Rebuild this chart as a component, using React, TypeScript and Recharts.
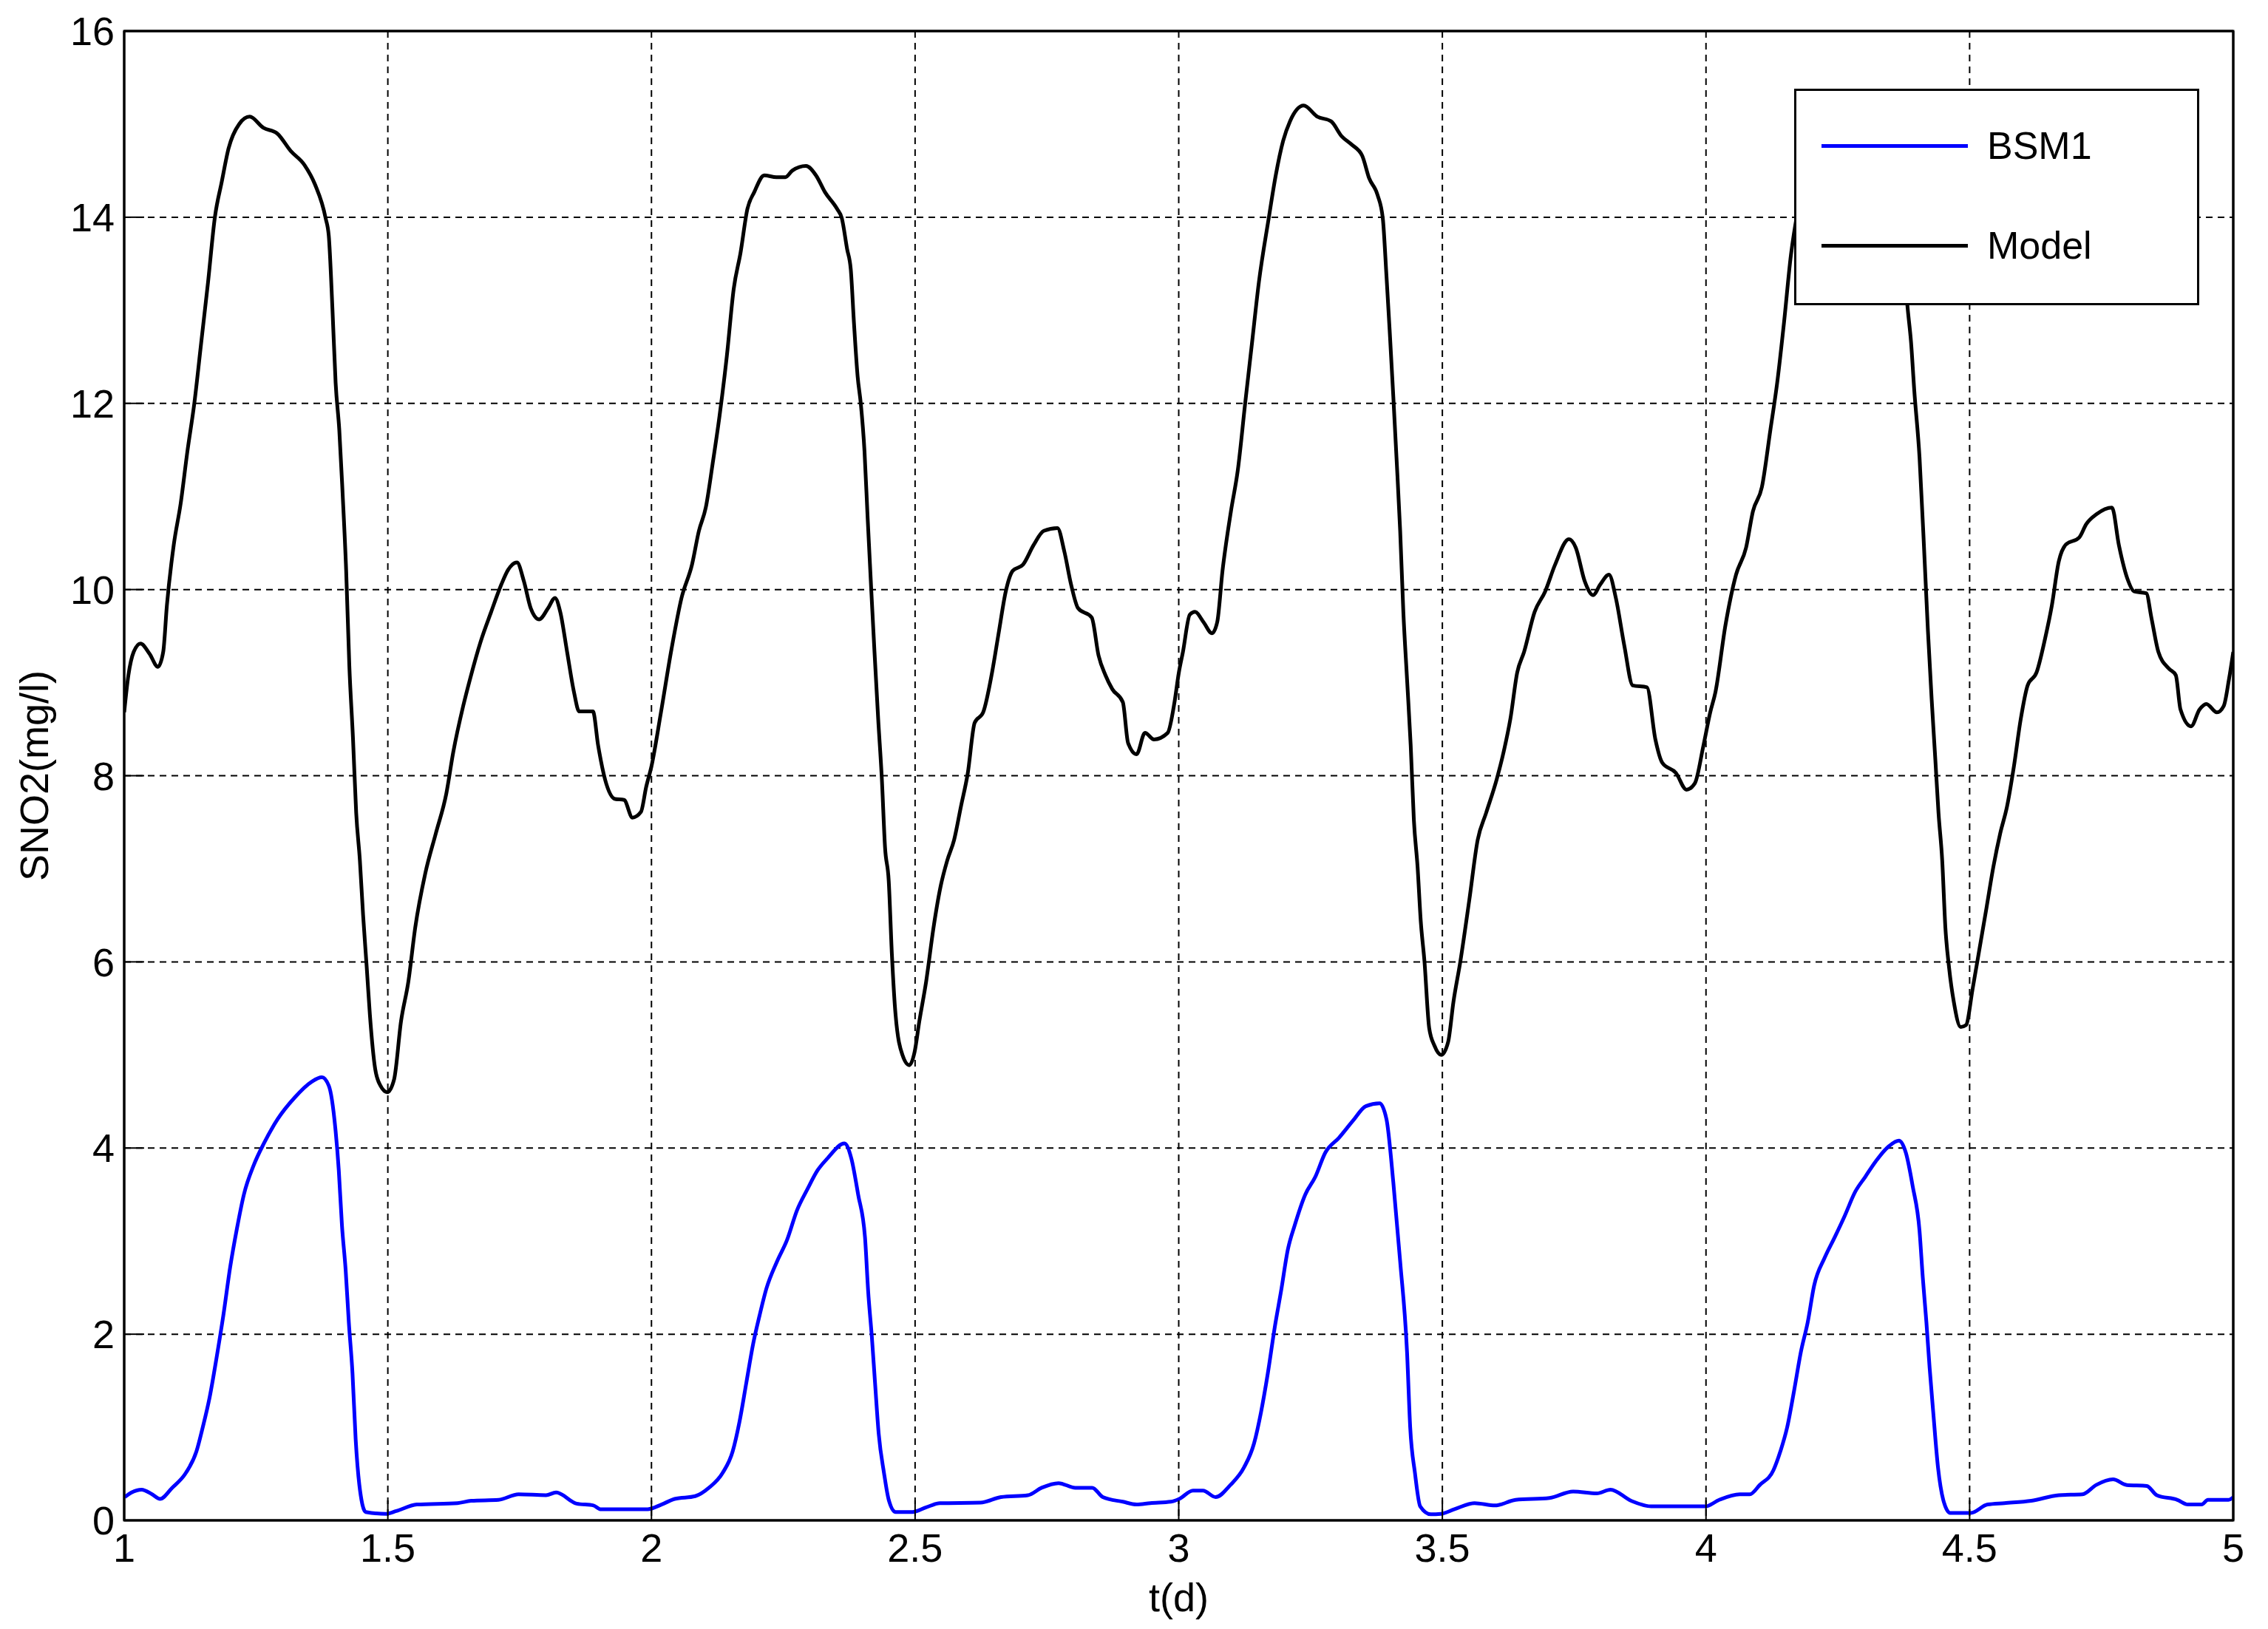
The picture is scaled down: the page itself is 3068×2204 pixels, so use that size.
import React from 'react';
import {
  LineChart,
  Line,
  XAxis,
  YAxis,
  CartesianGrid,
  Legend,
  ReferenceArea,
} from 'recharts';

// Model curve (black)
const modelTime = [
  1.0, 1.008, 1.018, 1.031, 1.048, 1.064, 1.074, 1.081, 1.094, 1.107, 1.12, 1.133, 1.146, 1.159, 1.172,
  1.185, 1.198, 1.218, 1.238, 1.264, 1.29, 1.316, 1.342, 1.362, 1.382, 1.388, 1.395, 1.401, 1.408,
  1.414, 1.421, 1.427, 1.434, 1.44, 1.447, 1.453, 1.46, 1.466, 1.476, 1.486, 1.499, 1.512, 1.525,
  1.539, 1.552, 1.571, 1.591, 1.611, 1.624, 1.643, 1.656, 1.676, 1.696, 1.715, 1.728, 1.745, 1.758,
  1.771, 1.787, 1.804, 1.817, 1.827, 1.84, 1.853, 1.863, 1.889, 1.899, 1.912, 1.931, 1.948, 1.964,
  1.98, 1.99, 2.0,
  2.018, 2.038, 2.057, 2.077, 2.09, 2.103, 2.116, 2.129, 2.143, 2.156, 2.169, 2.182, 2.195, 2.214,
  2.237, 2.254, 2.267, 2.293, 2.312, 2.329, 2.352, 2.361, 2.371, 2.378, 2.384, 2.391, 2.397, 2.404,
  2.41, 2.417, 2.423, 2.43, 2.437, 2.443, 2.45, 2.456, 2.463, 2.476, 2.489, 2.499, 2.508, 2.521,
  2.535, 2.548, 2.561, 2.574, 2.587, 2.6, 2.613, 2.629, 2.646, 2.659, 2.672, 2.685, 2.705, 2.725,
  2.744, 2.77, 2.783, 2.796, 2.809, 2.835, 2.848, 2.861, 2.874, 2.894, 2.904, 2.92, 2.936, 2.953,
  2.979, 2.992, 3.0,
  3.008, 3.021, 3.031, 3.047, 3.063, 3.073, 3.083, 3.099, 3.112, 3.126, 3.139, 3.152, 3.171, 3.184,
  3.198, 3.211, 3.237, 3.263, 3.289, 3.309, 3.328, 3.348, 3.361, 3.377, 3.387, 3.394, 3.4, 3.407,
  3.413, 3.42, 3.426, 3.433, 3.44, 3.446, 3.453, 3.459, 3.466, 3.475, 3.485, 3.498, 3.511, 3.521,
  3.534, 3.551, 3.567, 3.583, 3.603, 3.616, 3.629, 3.642, 3.655, 3.675, 3.695, 3.714, 3.74, 3.753,
  3.77, 3.786, 3.799, 3.816, 3.829, 3.845, 3.861, 3.888, 3.904, 3.917, 3.943, 3.963, 3.979, 3.995,
  4.008, 4.018, 4.037, 4.057, 4.076, 4.089, 4.106, 4.122, 4.135, 4.148, 4.161, 4.175, 4.19, 4.21,
  4.235, 4.26, 4.29, 4.32, 4.35, 4.37, 4.382, 4.389, 4.395, 4.405, 4.415, 4.421, 4.428, 4.435,
  4.441, 4.448, 4.454, 4.461, 4.47, 4.483, 4.493, 4.506, 4.519, 4.532, 4.545, 4.558, 4.571, 4.584,
  4.597, 4.61, 4.627, 4.643, 4.656, 4.669, 4.682, 4.708, 4.721, 4.741, 4.77, 4.783, 4.799, 4.812,
  4.835, 4.845, 4.858, 4.878, 4.891, 4.9, 4.92, 4.936, 4.949, 4.969, 4.982, 4.992, 5.0,
];
const modelValue = [
  8.68, 9.08, 9.33, 9.42, 9.31, 9.17, 9.33, 9.83, 10.48, 10.92, 11.49, 12.0, 12.65, 13.3, 14.0,
  14.38, 14.74, 15.0, 15.08, 14.96, 14.9, 14.71, 14.56, 14.35, 13.99, 13.8, 13.01, 12.22, 11.71,
  11.06, 10.2, 9.18, 8.39, 7.6, 7.09, 6.51, 5.94, 5.43, 4.85, 4.67, 4.6, 4.74, 5.36,
  5.79, 6.37, 6.95, 7.38, 7.81, 8.25, 8.75, 9.04, 9.44, 9.76, 10.05, 10.21, 10.29, 10.09,
  9.8, 9.68, 9.8, 9.91, 9.76, 9.33, 8.9, 8.69, 8.69, 8.32, 7.96, 7.75, 7.74, 7.55,
  7.61, 7.88, 8.1,
  8.68, 9.36, 9.91, 10.27, 10.63, 10.88, 11.35, 11.86, 12.51, 13.23, 13.62, 14.09, 14.27, 14.45,
  14.43, 14.43, 14.5, 14.55, 14.45, 14.27, 14.09, 13.99, 13.66, 13.44, 12.87, 12.29, 12.0, 11.49,
  10.77, 9.98, 9.33, 8.61, 7.96, 7.23, 6.87, 6.08, 5.43, 5.0, 4.89, 5.03, 5.36, 5.79,
  6.37, 6.8, 7.09, 7.31, 7.67, 8.03, 8.57, 8.68, 9.11, 9.55, 9.98, 10.2, 10.27, 10.48,
  10.63, 10.66, 10.41, 10.05, 9.8, 9.7, 9.29, 9.08, 8.93, 8.79, 8.35, 8.23, 8.46, 8.39,
  8.46, 8.79, 9.1,
  9.33, 9.73, 9.76, 9.65, 9.53, 9.65, 10.2, 10.84, 11.28, 12.0, 12.65, 13.3, 14.0, 14.45,
  14.82, 15.03, 15.2, 15.08, 15.03, 14.87, 14.78, 14.66, 14.42, 14.24, 13.99, 13.37, 12.79, 12.07,
  11.42, 10.63, 9.76, 9.04, 8.32, 7.52, 7.02, 6.44, 6.01, 5.29, 5.1, 5.0, 5.14, 5.57,
  6.0, 6.66, 7.31, 7.6, 7.96, 8.25, 8.61, 9.11, 9.33, 9.76, 9.98, 10.27, 10.54, 10.45,
  10.09, 9.94, 10.05, 10.16, 9.91, 9.4, 8.97, 8.95, 8.39, 8.14, 8.03, 7.85, 7.92, 8.32,
  8.68, 8.9, 9.62, 10.16, 10.45, 10.84, 11.1, 11.71, 12.22, 12.87, 13.59, 14.1, 14.5, 14.85,
  15.0, 14.95, 14.85, 14.65, 14.4, 14.0, 13.05, 12.65, 12.14, 11.42, 10.27, 9.55, 8.82, 8.17,
  7.6, 7.09, 6.37, 5.94, 5.57, 5.3, 5.32, 5.72, 6.15, 6.58, 7.02, 7.38, 7.67, 8.1,
  8.61, 8.97, 9.11, 9.47, 9.83, 10.3, 10.48, 10.56, 10.7, 10.81, 10.88, 10.48, 10.12, 9.98,
  9.96, 9.69, 9.33, 9.15, 9.08, 8.71, 8.53, 8.71, 8.77, 8.68, 8.75, 9.04, 9.33,
];

// BSM1 curve (blue)
const bsmTime = [
  1.001, 1.014, 1.033, 1.053, 1.068, 1.091, 1.117, 1.137, 1.149, 1.162, 1.175, 1.188, 1.201, 1.214,
  1.227, 1.246, 1.265, 1.291, 1.323, 1.355, 1.375, 1.388, 1.401, 1.407, 1.413, 1.42, 1.426, 1.433,
  1.439, 1.446, 1.458, 1.497, 1.516, 1.555, 1.632, 1.658, 1.71, 1.748, 1.8, 1.819, 1.858, 1.89,
  1.903, 1.993, 2.019, 2.044, 2.083, 2.109, 2.135, 2.154, 2.167, 2.18, 2.193, 2.205, 2.218, 2.238,
  2.257, 2.276, 2.296, 2.315, 2.334, 2.366, 2.379, 2.392, 2.405, 2.411, 2.418, 2.424, 2.431, 2.441,
  2.45, 2.463, 2.495, 2.521, 2.547, 2.624, 2.663, 2.714, 2.74, 2.772, 2.804, 2.836, 2.856, 2.894,
  2.92, 2.946, 2.985,
  3.001, 3.027, 3.046, 3.07, 3.098, 3.124, 3.143, 3.156, 3.169, 3.182, 3.194, 3.207, 3.22, 3.24,
  3.259, 3.278, 3.304, 3.33, 3.355, 3.381, 3.394, 3.407, 3.42, 3.433, 3.439, 3.448, 3.458, 3.478,
  3.497, 3.523, 3.561, 3.6, 3.639, 3.703, 3.748, 3.793, 3.819, 3.858, 3.896, 3.999, 4.025, 4.064,
  4.083, 4.102, 4.128, 4.141, 4.154, 4.167, 4.18, 4.193, 4.205, 4.225, 4.244, 4.263, 4.283, 4.302,
  4.321, 4.347, 4.366, 4.379, 4.392, 4.405, 4.411, 4.418, 4.424, 4.431, 4.44, 4.45, 4.463, 4.502,
  4.534, 4.566, 4.617, 4.669, 4.714, 4.74, 4.772, 4.798, 4.836, 4.855, 4.894, 4.914, 4.94, 4.952,
  4.991, 5.0,
];
const bsmValue = [
  0.25, 0.3, 0.33, 0.28, 0.23, 0.35, 0.51, 0.74, 1.0, 1.32, 1.74, 2.2, 2.72, 3.14,
  3.5, 3.82, 4.05, 4.31, 4.54, 4.71, 4.76, 4.67, 4.18, 3.76, 3.17, 2.69, 2.13, 1.58,
  0.87, 0.38, 0.09, 0.07, 0.1, 0.17, 0.185, 0.21, 0.22, 0.28, 0.27, 0.3, 0.18, 0.16,
  0.12, 0.12, 0.17, 0.23, 0.26, 0.35, 0.51, 0.74, 1.06, 1.48, 1.9, 2.2, 2.49, 2.78,
  3.01, 3.33, 3.56, 3.76, 3.89, 4.05, 3.89, 3.5, 3.04, 2.46, 1.97, 1.48, 0.93, 0.51,
  0.22, 0.09, 0.09, 0.14, 0.185, 0.19, 0.25, 0.27, 0.35, 0.4, 0.35, 0.35, 0.25, 0.2,
  0.17, 0.185, 0.2,
  0.23, 0.32, 0.32, 0.25, 0.38, 0.57, 0.83, 1.16, 1.58, 2.07, 2.46, 2.91, 3.17, 3.5,
  3.69, 3.95, 4.11, 4.29, 4.45, 4.48, 4.31, 3.63, 2.78, 1.81, 1.0, 0.51, 0.15, 0.065,
  0.07, 0.12, 0.185, 0.16, 0.22, 0.24, 0.31, 0.29, 0.33, 0.21, 0.15, 0.15, 0.22, 0.28,
  0.28, 0.38, 0.54, 0.74, 1.0, 1.39, 1.81, 2.13, 2.52, 2.82, 3.04, 3.27, 3.53, 3.69,
  3.85, 4.02, 4.08, 3.95, 3.59, 3.11, 2.62, 2.13, 1.65, 1.16, 0.57, 0.22, 0.08, 0.08,
  0.17, 0.185, 0.21, 0.27, 0.28, 0.38, 0.44, 0.38, 0.37, 0.27, 0.22, 0.17, 0.17, 0.22,
  0.22, 0.25,
];

const xTicks = [1, 1.5, 2, 2.5, 3, 3.5, 4, 4.5, 5];
const yTicks = [0, 2, 4, 6, 8, 10, 12, 14, 16];

const seriesNames = ['BSM1', 'Model'];
const seriesColors = ['#0000ff', '#000000'];

const toPoints = (t: number[], v: number[]) => t.map((x, i) => ({ t: x, v: v[i] }));

const FONT = '"Liberation Sans", Arial, Helvetica, sans-serif';
const tickStyle = { fontSize: 54, fill: '#000', fontFamily: FONT };

const renderLegend = () => (
  <div
    style={{
      width: 548,
      height: 293,
      boxSizing: 'border-box',
      border: '3px solid #000',
      background: '#fff',
      position: 'relative',
      fontFamily: FONT,
      fontSize: 52,
      color: '#000',
    }}
  >
    {seriesNames.map((name, i) => (
      <div key={name}>
        <div
          style={{
            position: 'absolute',
            left: 34,
            top: (i === 0 ? 77 : 212) - 3 - 2,
            width: 198,
            height: 5,
            background: seriesColors[i],
          }}
        />
        <div
          style={{
            position: 'absolute',
            left: 258,
            top: (i === 0 ? 77 : 212) - 3 - 32,
            lineHeight: '64px',
            whiteSpace: 'nowrap',
          }}
        >
          {name}
        </div>
      </div>
    ))}
  </div>
);

export default function App() {
  const bsmData = toPoints(bsmTime, bsmValue);
  const modelData = toPoints(modelTime, modelValue);

  return (
    <div style={{ width: 3068, height: 2204, background: '#fff' }}>
      <style>{'body{margin:0;background:#fff}'}</style>
      <LineChart width={3068} height={2204} margin={{ top: 0, right: 0, bottom: 0, left: 0 }}>
        <CartesianGrid stroke="#000" strokeWidth={2} strokeDasharray="9 7" />
        <XAxis
          dataKey="t"
          type="number"
          domain={[1, 5]}
          ticks={xTicks}
          interval={0}
          allowDataOverflow
          height={147}
          tickSize={-27}
          tickMargin={45}
          tick={tickStyle}
          axisLine={{ stroke: '#000', strokeWidth: 3 }}
          tickLine={{ stroke: '#000', strokeWidth: 2 }}
          label={{
            value: 't(d)',
            position: 'insideBottom',
            offset: 24,
            style: { fontSize: 54, fill: '#000', fontFamily: FONT },
          }}
        />
        <XAxis
          xAxisId="top"
          orientation="top"
          type="number"
          domain={[1, 5]}
          ticks={xTicks}
          interval={0}
          allowDataOverflow
          height={42}
          tickSize={-27}
          tick={false}
          axisLine={{ stroke: '#000', strokeWidth: 3 }}
          tickLine={{ stroke: '#000', strokeWidth: 2 }}
        />
        <YAxis
          type="number"
          domain={[0, 16]}
          ticks={yTicks}
          interval={0}
          allowDataOverflow
          width={168}
          tickSize={-27}
          tickMargin={40}
          tick={tickStyle}
          axisLine={{ stroke: '#000', strokeWidth: 3 }}
          tickLine={{ stroke: '#000', strokeWidth: 2 }}
          label={{
            value: 'SNO2(mg/l)',
            angle: -90,
            position: 'insideLeft',
            offset: 46,
            style: { fontSize: 54, fill: '#000', fontFamily: FONT, textAnchor: 'middle' },
          }}
        />
        <YAxis
          yAxisId="right"
          orientation="right"
          type="number"
          domain={[0, 16]}
          ticks={yTicks}
          interval={0}
          allowDataOverflow
          width={47}
          tickSize={-27}
          tick={false}
          axisLine={{ stroke: '#000', strokeWidth: 3 }}
          tickLine={{ stroke: '#000', strokeWidth: 2 }}
        />
        <ReferenceArea x1={1} x2={5} y1={0} y2={16} fill="none" stroke="#000" strokeWidth={3} />
        <Line
          data={bsmData}
          dataKey="v"
          name="BSM1"
          type="monotone"
          stroke={seriesColors[0]}
          strokeWidth={5}
          dot={false}
          activeDot={false}
          isAnimationActive={false}
        />
        <Line
          data={modelData}
          dataKey="v"
          name="Model"
          type="monotone"
          stroke={seriesColors[1]}
          strokeWidth={5}
          dot={false}
          activeDot={false}
          isAnimationActive={false}
        />
        <Legend
          layout="horizontal"
          verticalAlign="middle"
          align="center"
          content={renderLegend}
          wrapperStyle={{ left: 2427, top: 120, width: 548, height: 293, bottom: 'auto', right: 'auto' }}
        />
      </LineChart>
    </div>
  );
}
